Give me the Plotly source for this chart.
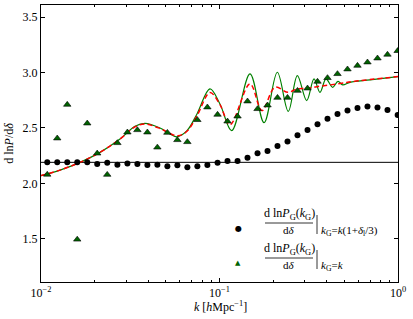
import plotly.graph_objects as go

# sample wavenumbers (h/Mpc)
k_pts = [0.01084, 0.01233, 0.01403, 0.01596, 0.01816, 0.02065, 0.02350, 0.02679,
         0.03048, 0.03467, 0.03945, 0.04487, 0.05105, 0.05808, 0.06607, 0.07516,
         0.08551, 0.09750, 0.1109, 0.1262, 0.1435, 0.1633, 0.1858, 0.2113,
         0.2404, 0.2735, 0.3112, 0.3540, 0.4027, 0.4581, 0.5212, 0.5929,
         0.6745, 0.7674, 0.8730, 0.9954]

dots_vals = [2.19, 2.19, 2.19, 2.19, 2.19, 2.175, 2.187, 2.169, 2.18,
             2.175, 2.166, 2.169, 2.154, 2.163, 2.145, 2.154, 2.166, 2.187,
             2.202, 2.202, 2.232, 2.271, 2.292, 2.338, 2.379, 2.434, 2.482,
             2.533, 2.584, 2.627, 2.657, 2.681, 2.693, 2.684, 2.663, 2.618]

tri_vals = [2.08, 2.407, 2.711, 1.494, 2.542, 2.271, 2.079, 2.365, 2.461,
            2.482, 2.461, 2.325, 2.458, 2.392, 2.374, 2.573, 2.687, 2.621,
            2.56, 2.605, 2.741, 2.672, 2.705, 2.774, 2.774, 2.837, 2.858,
            2.919, 2.952, 2.988, 3.03, 3.063, 3.093, 3.129, 3.163, 3.196]

# solid green (with wiggles)
k_green = [0.0100, 0.01278, 0.01654, 0.02141, 0.02770, 0.03361, 0.03825, 0.04642,
           0.05281, 0.05779, 0.06575, 0.07479, 0.08845, 0.1006, 0.1170, 0.1482,
           0.1776, 0.2108, 0.2428, 0.2729, 0.3080, 0.3384, 0.3656, 0.3950,
           0.4306, 0.4611, 0.4899, 0.5383, 0.6967, 1.0]
v_green = [2.07, 2.12, 2.19, 2.28, 2.40, 2.515, 2.542, 2.50,
           2.446, 2.42, 2.476, 2.627, 2.853, 2.717, 2.476, 2.988,
           2.548, 3.003, 2.65, 2.973, 2.747, 2.943, 2.822, 2.943,
           2.867, 2.921, 2.889, 2.912, 2.934, 2.964]

# dashed red (damped wiggles)
k_red = [0.0100, 0.01278, 0.01654, 0.02141, 0.02770, 0.03361, 0.03825, 0.04642,
         0.05281, 0.05855, 0.06575, 0.07479, 0.08845, 0.1006, 0.1145, 0.1482,
         0.1730, 0.2046, 0.2419, 0.2717, 0.3092, 0.3517, 0.4836, 0.5597, 1.0]
v_red = [2.07, 2.12, 2.19, 2.28, 2.40, 2.51, 2.535, 2.495,
         2.45, 2.43, 2.47, 2.61, 2.82, 2.71, 2.53, 2.898,
         2.657, 2.867, 2.822, 2.853, 2.858, 2.873, 2.903, 2.919, 2.964]

ref_level = 2.19
x_major = [0.01, 0.1, 1.0]
x_major_text = ["10<sup>\u22122</sup>", "10<sup>\u22121</sup>", "10<sup>0</sup>"]
x_minor = [m * d for d in (0.01, 0.1) for m in range(2, 10)]
y_ticks = [1.5, 2.0, 2.5, 3.0, 3.5]

FONT = "Liberation Serif"

fig = go.Figure()
fig.add_trace(go.Scatter(x=[0.01, 1.0], y=[ref_level, ref_level], mode="lines",
                         line=dict(color="black", width=1), showlegend=False))
fig.add_trace(go.Scatter(x=k_green, y=v_green, mode="lines",
                         line=dict(color="#008000", width=1.2, shape="spline", smoothing=1.0),
                         showlegend=False))
fig.add_trace(go.Scatter(x=k_red, y=v_red, mode="lines",
                         line=dict(color="#ff0000", width=1.5, dash="5px,3px", shape="spline", smoothing=1.0),
                         showlegend=False))
fig.add_trace(go.Scatter(x=k_pts, y=dots_vals, mode="markers",
                         marker=dict(symbol="circle", size=6, color="black"),
                         showlegend=False))
fig.add_trace(go.Scatter(x=k_pts, y=tri_vals, mode="markers",
                         marker=dict(symbol="triangle-up", size=6.5, color="#006400",
                                     line=dict(color="black", width=0.6)),
                         showlegend=False))

# plot area in pixels: x 41..398, y 5..282
def px(x):
    return (x - 41) / 357.0

def py(y):
    return (282 - y) / 277.0

ann = []
shapes = []

def legend_entry(sym, sym_color, sym_size, ymid, subtxt):
    ann.append(dict(x=px(238), y=py(ymid), xref="paper", yref="paper", text=sym,
                    showarrow=False, font=dict(size=sym_size, color=sym_color, family="DejaVu Sans"),
                    xanchor="center", yanchor="middle"))
    ann.append(dict(x=px(289), y=py(ymid - 5.5), xref="paper", yref="paper",
                    text="d ln<i>P</i><sub>G</sub>(<i>k</i><sub>G</sub>)",
                    showarrow=False, font=dict(size=12, color="black", family=FONT),
                    xanchor="center", yanchor="bottom", yshift=-1))
    ann.append(dict(x=px(289), y=py(ymid - 4.5), xref="paper", yref="paper",
                    text="d<i>\u03b4</i>",
                    showarrow=False, font=dict(size=11, color="black", family=FONT),
                    xanchor="center", yanchor="top", yshift=2))
    shapes.append(dict(type="line", xref="paper", yref="paper",
                       x0=px(265), x1=px(313), y0=py(ymid - 5), y1=py(ymid - 5),
                       line=dict(color="black", width=0.8)))
    shapes.append(dict(type="line", xref="paper", yref="paper",
                       x0=px(317), x1=px(317), y0=py(ymid - 13), y1=py(ymid + 6),
                       line=dict(color="black", width=0.8)))
    ann.append(dict(x=px(319), y=py(ymid + 3), xref="paper", yref="paper",
                    text=subtxt, showarrow=False,
                    font=dict(size=11, color="black", family=FONT),
                    xanchor="left", yanchor="middle"))

legend_entry("\u25cf", "black", 8, 228,
             "<i>k</i><sub>G</sub>=<i>k</i>(1+<i>\u03b4</i><sub>l</sub>/3)")
legend_entry("\u25b2", "#006400", 7, 263, "<i>k</i><sub>G</sub>=<i>k</i>")

# x-axis title placed as annotation
ann.append(dict(x=px(220), y=py(306), xref="paper", yref="paper",
                text="<i>k</i> [<i>h</i>Mpc<sup>\u22121</sup>]", showarrow=False,
                font=dict(size=12, color="black", family=FONT),
                xanchor="center", yanchor="middle"))

fig.update_layout(
    width=413, height=319,
    margin=dict(l=41, r=15, t=5, b=37),
    paper_bgcolor="white", plot_bgcolor="white",
    font=dict(family=FONT, size=12, color="black"),
    annotations=ann, shapes=shapes,
    showlegend=False,
)
fig.update_xaxes(
    type="log", range=[-2, 0],
    tickmode="array", tickvals=x_major, ticktext=x_major_text,
    ticks="inside", ticklen=4, tickcolor="black", tickwidth=0.8,
    minor=dict(tickmode="array", tickvals=x_minor, ticks="inside", ticklen=2,
               tickcolor="black", tickwidth=0.6),
    showline=True, linecolor="black", linewidth=1, mirror="allticks",
    showgrid=False, zeroline=False,
    tickfont=dict(size=12, family=FONT),
)
fig.update_yaxes(
    range=[1.11, 3.61],
    tickmode="array", tickvals=y_ticks, ticktext=["1.5", "2.0", "2.5", "3.0", "3.5"],
    ticks="inside", ticklen=4, tickcolor="black", tickwidth=0.8,
    showline=True, linecolor="black", linewidth=1, mirror="allticks",
    showgrid=False, zeroline=False,
    tickfont=dict(size=12, family=FONT),
    title=dict(text="d ln<i>P</i>/d<i>\u03b4</i>", font=dict(size=12, family=FONT), standoff=6),
)

fig.write_html("out.html", config={"displayModeBar": False},
               post_script="document.body.style.margin='0';document.body.style.overflow='hidden';")
